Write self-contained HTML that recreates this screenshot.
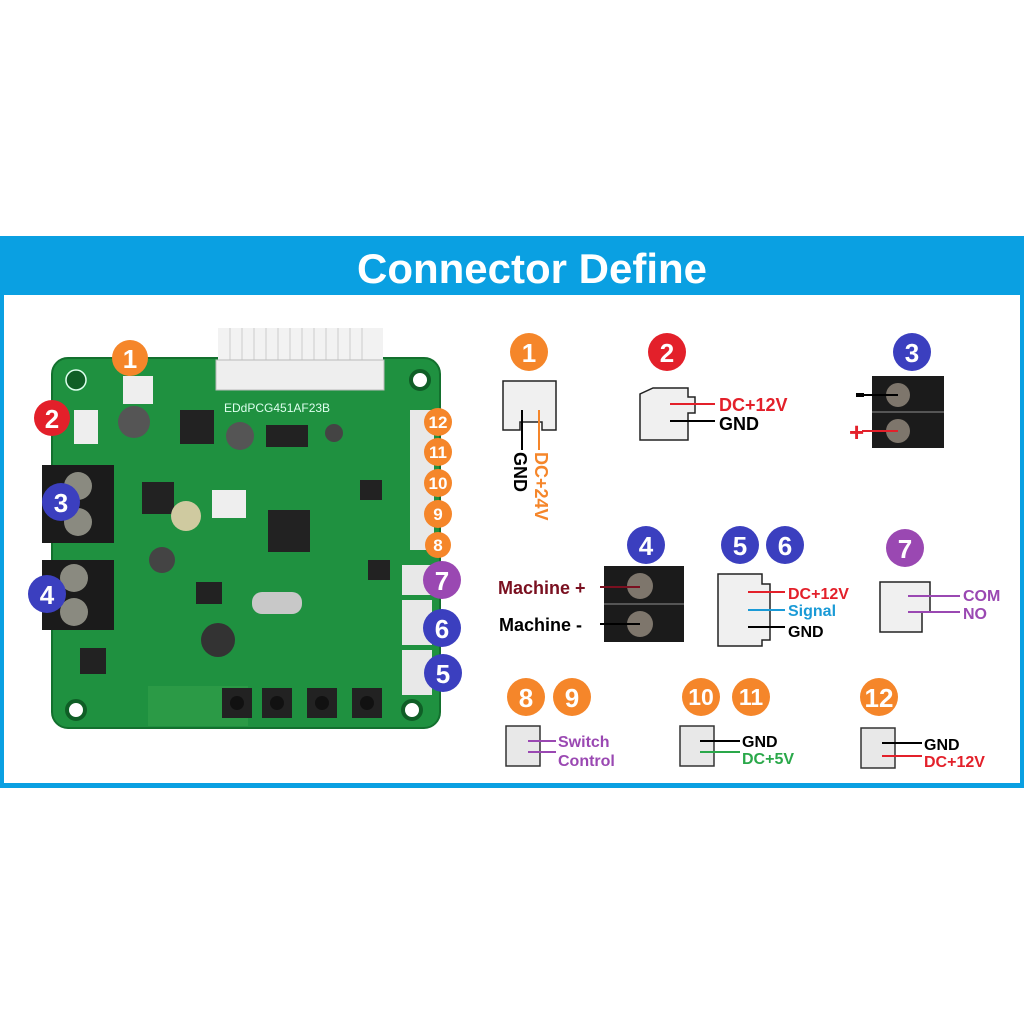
<!DOCTYPE html>
<html><head><style>
html,body{margin:0;padding:0;background:#fff;}
svg text{font-family:"Liberation Sans",sans-serif;font-weight:bold;}
</style></head><body>
<svg width="1024" height="1024" viewBox="0 0 1024 1024" xmlns="http://www.w3.org/2000/svg">
<rect width="1024" height="1024" fill="#fff"/>
<rect x="0" y="236" width="1024" height="552" fill="#0aa0e2"/>
<rect x="4" y="295" width="1016" height="488" fill="#fff"/>
<text x="532" y="283" font-size="42" fill="#fff" text-anchor="middle">Connector Define</text>

<rect x="52" y="358" width="388" height="370" rx="16" fill="#1f9140"/>
<rect x="52" y="358" width="388" height="370" rx="16" fill="none" stroke="#13702e" stroke-width="2"/>
<circle cx="76" cy="380" r="10" fill="#0f5e26" stroke="#dfe" stroke-width="1.5"/>
<circle cx="420" cy="380" r="9" fill="#fff" stroke="#0f5e26" stroke-width="4"/>
<circle cx="76" cy="710" r="9" fill="#fff" stroke="#0f5e26" stroke-width="4"/>
<circle cx="412" cy="710" r="9" fill="#fff" stroke="#0f5e26" stroke-width="4"/>
<rect x="218" y="328" width="165" height="32" fill="#f2f2f2"/>
<g stroke="#ccc" stroke-width="1">
<line x1="230" y1="328" x2="230" y2="360"/><line x1="242" y1="328" x2="242" y2="360"/><line x1="254" y1="328" x2="254" y2="360"/><line x1="266" y1="328" x2="266" y2="360"/><line x1="278" y1="328" x2="278" y2="360"/><line x1="290" y1="328" x2="290" y2="360"/><line x1="302" y1="328" x2="302" y2="360"/><line x1="314" y1="328" x2="314" y2="360"/><line x1="326" y1="328" x2="326" y2="360"/><line x1="338" y1="328" x2="338" y2="360"/><line x1="350" y1="328" x2="350" y2="360"/><line x1="362" y1="328" x2="362" y2="360"/></g>
<rect x="216" y="360" width="168" height="30" fill="#eee" stroke="#bbb"/>
<text x="224" y="412" font-size="12" fill="#dfe" style="font-weight:normal">EDdPCG451AF23B</text>
<rect x="123" y="376" width="30" height="28" fill="#eee"/>
<rect x="74" y="410" width="24" height="34" fill="#eee"/>
<rect x="212" y="490" width="34" height="28" fill="#eee"/>
<rect x="410" y="410" width="24" height="140" fill="#e8e8e8"/>
<rect x="402" y="565" width="30" height="30" fill="#e8e8e8"/>
<rect x="402" y="600" width="30" height="45" fill="#e8e8e8"/>
<rect x="402" y="650" width="30" height="45" fill="#e8e8e8"/>
<rect x="42" y="465" width="72" height="78" fill="#1b1b1b"/>
<circle cx="78" cy="486" r="14" fill="#8a8a80"/><circle cx="78" cy="522" r="14" fill="#8a8a80"/>
<rect x="42" y="560" width="72" height="70" fill="#1b1b1b"/>
<circle cx="74" cy="578" r="14" fill="#8a8a80"/><circle cx="74" cy="612" r="14" fill="#8a8a80"/>
<circle cx="134" cy="422" r="16" fill="#555"/>
<rect x="180" y="410" width="34" height="34" fill="#222"/>
<circle cx="240" cy="436" r="14" fill="#555"/>
<rect x="266" y="425" width="42" height="22" fill="#222"/>
<circle cx="334" cy="433" r="9" fill="#444"/>
<rect x="142" y="482" width="32" height="32" fill="#222"/>
<circle cx="186" cy="516" r="15" fill="#cfcaa0"/>
<rect x="268" y="510" width="42" height="42" fill="#222"/>
<circle cx="162" cy="560" r="13" fill="#444"/>
<rect x="196" y="582" width="26" height="22" fill="#222"/>
<rect x="252" y="592" width="50" height="22" rx="10" fill="#c8c8c8"/>
<circle cx="218" cy="640" r="17" fill="#333"/>
<rect x="80" y="648" width="26" height="26" fill="#222"/>
<rect x="360" y="480" width="22" height="20" fill="#222"/>
<rect x="368" y="560" width="22" height="20" fill="#222"/>
<rect x="148" y="686" width="100" height="40" fill="#2b9a46"/>
<rect x="222" y="688" width="30" height="30" fill="#222"/><circle cx="237" cy="703" r="7" fill="#111"/>
<rect x="262" y="688" width="30" height="30" fill="#222"/><circle cx="277" cy="703" r="7" fill="#111"/>
<rect x="307" y="688" width="30" height="30" fill="#222"/><circle cx="322" cy="703" r="7" fill="#111"/>
<rect x="352" y="688" width="30" height="30" fill="#222"/><circle cx="367" cy="703" r="7" fill="#111"/>

<g font-size="26" text-anchor="middle" fill="#fff">
<circle cx="130" cy="358" r="18" fill="#f5862a"/><text x="130" y="368">1</text>
<circle cx="52" cy="418" r="18" fill="#e3202a"/><text x="52" y="428">2</text>
<circle cx="61" cy="502" r="19" fill="#3b3fbf"/><text x="61" y="512">3</text>
<circle cx="47" cy="594" r="19" fill="#3b3fbf"/><text x="47" y="604">4</text>
<circle cx="442" cy="580" r="19" fill="#9a48b2"/><text x="442" y="590">7</text>
<circle cx="442" cy="628" r="19" fill="#3b3fbf"/><text x="442" y="638">6</text>
<circle cx="443" cy="673" r="19" fill="#3b3fbf"/><text x="443" y="683">5</text>
</g>
<g font-size="17" text-anchor="middle" fill="#fff">
<circle cx="438" cy="422" r="14" fill="#f5862a"/><text x="438" y="428">12</text>
<circle cx="438" cy="452" r="14" fill="#f5862a"/><text x="438" y="458">11</text>
<circle cx="438" cy="483" r="14" fill="#f5862a"/><text x="438" y="489">10</text>
<circle cx="438" cy="514" r="14" fill="#f5862a"/><text x="438" y="520">9</text>
<circle cx="438" cy="545" r="13" fill="#f5862a"/><text x="438" y="551">8</text>
</g>

<g font-size="26" text-anchor="middle" fill="#fff">
<circle cx="529" cy="352" r="19" fill="#f5862a"/><text x="529" y="362">1</text>
<circle cx="667" cy="352" r="19" fill="#e3202a"/><text x="667" y="362">2</text>
<circle cx="912" cy="352" r="19" fill="#3b3fbf"/><text x="912" y="362">3</text>
<circle cx="646" cy="545" r="19" fill="#3b3fbf"/><text x="646" y="555">4</text>
<circle cx="740" cy="545" r="19" fill="#3b3fbf"/><text x="740" y="555">5</text>
<circle cx="785" cy="545" r="19" fill="#3b3fbf"/><text x="785" y="555">6</text>
<circle cx="905" cy="548" r="19" fill="#9a48b2"/><text x="905" y="558">7</text>
<circle cx="526" cy="697" r="19" fill="#f5862a"/><text x="526" y="707">8</text>
<circle cx="572" cy="697" r="19" fill="#f5862a"/><text x="572" y="707">9</text>
<circle cx="879" cy="697" r="19" fill="#f5862a"/><text x="879" y="707">12</text>
</g>
<g font-size="23" text-anchor="middle" fill="#fff">
<circle cx="701" cy="697" r="19" fill="#f5862a"/><text x="701" y="705">10</text>
<circle cx="751" cy="697" r="19" fill="#f5862a"/><text x="751" y="705">11</text>
</g>

<path d="M503 381 H556 V430 H542 V422 H520 V430 H503 Z" fill="#f0f0f0" stroke="#222" stroke-width="1.5"/>
<line x1="522" y1="410" x2="522" y2="450" stroke="#000" stroke-width="2"/>
<line x1="539" y1="410" x2="539" y2="450" stroke="#f5862a" stroke-width="2"/>
<text transform="translate(514,452) rotate(90)" font-size="18" fill="#000">GND</text>
<text transform="translate(535,452) rotate(90)" font-size="18" fill="#f5862a">DC+24V</text>
<path d="M653 388 H688 V397 H695 V413 H688 V440 H640 V394 Z" fill="#f0f0f0" stroke="#222" stroke-width="1.5"/>
<line x1="670" y1="404" x2="715" y2="404" stroke="#e3202a" stroke-width="2"/>
<line x1="670" y1="421" x2="715" y2="421" stroke="#000" stroke-width="2"/>
<text x="719" y="411" font-size="18" fill="#e3202a">DC+12V</text>
<text x="719" y="430" font-size="18" fill="#000">GND</text>
<rect x="872" y="376" width="72" height="72" fill="#1b1b1b"/>
<line x1="872" y1="412" x2="944" y2="412" stroke="#555" stroke-width="2"/>
<circle cx="898" cy="395" r="12" fill="#7e766c"/><circle cx="898" cy="431" r="12" fill="#7e766c"/>
<line x1="862" y1="395" x2="898" y2="395" stroke="#000" stroke-width="2"/>
<line x1="862" y1="431" x2="898" y2="431" stroke="#e3202a" stroke-width="2"/>
<rect x="856" y="393" width="8" height="4" fill="#000"/>
<text x="849" y="441" font-size="26" fill="#e3202a">+</text>
<rect x="604" y="566" width="80" height="76" fill="#1b1b1b"/>
<line x1="604" y1="604" x2="684" y2="604" stroke="#555" stroke-width="2"/>
<circle cx="640" cy="586" r="13" fill="#7e766c"/><circle cx="640" cy="624" r="13" fill="#7e766c"/>
<line x1="600" y1="587" x2="640" y2="587" stroke="#7a1020" stroke-width="2"/>
<line x1="600" y1="624" x2="640" y2="624" stroke="#000" stroke-width="2"/>
<text x="498" y="594" font-size="18" fill="#7a1020">Machine +</text>
<text x="499" y="631" font-size="18" fill="#000">Machine -</text>
<path d="M718 574 H762 V584 H770 V640 H762 V646 H718 Z" fill="#f0f0f0" stroke="#222" stroke-width="1.5"/>
<line x1="748" y1="592" x2="785" y2="592" stroke="#e3202a" stroke-width="2"/>
<line x1="748" y1="610" x2="785" y2="610" stroke="#1a9ad6" stroke-width="2"/>
<line x1="748" y1="627" x2="785" y2="627" stroke="#000" stroke-width="2"/>
<text x="788" y="599" font-size="16" fill="#e3202a">DC+12V</text>
<text x="788" y="616" font-size="16" fill="#1a9ad6">Signal</text>
<text x="788" y="637" font-size="16" fill="#000">GND</text>
<path d="M880 582 H930 V612 H922 V632 H880 Z" fill="#f0f0f0" stroke="#222" stroke-width="1.5"/>
<line x1="908" y1="596" x2="960" y2="596" stroke="#9a48b2" stroke-width="2"/>
<line x1="908" y1="612" x2="960" y2="612" stroke="#9a48b2" stroke-width="2"/>
<text x="963" y="601" font-size="16" fill="#9a48b2">COM</text>
<text x="963" y="619" font-size="16" fill="#9a48b2">NO</text>
<path d="M506 726 H540 V766 H506 Z" fill="#e8e8e8" stroke="#333" stroke-width="1.5"/>
<line x1="528" y1="741" x2="556" y2="741" stroke="#9a48b2" stroke-width="2"/>
<line x1="528" y1="752" x2="556" y2="752" stroke="#9a48b2" stroke-width="2"/>
<text x="558" y="747" font-size="16" fill="#9a48b2">Switch</text>
<text x="558" y="766" font-size="16" fill="#9a48b2">Control</text>
<path d="M680 726 H714 V766 H680 Z" fill="#e8e8e8" stroke="#333" stroke-width="1.5"/>
<line x1="700" y1="741" x2="740" y2="741" stroke="#000" stroke-width="2"/>
<line x1="700" y1="752" x2="740" y2="752" stroke="#2aa84a" stroke-width="2"/>
<text x="742" y="747" font-size="16" fill="#000">GND</text>
<text x="742" y="764" font-size="16" fill="#2aa84a">DC+5V</text>
<path d="M861 728 H895 V768 H861 Z" fill="#e8e8e8" stroke="#333" stroke-width="1.5"/>
<line x1="882" y1="743" x2="922" y2="743" stroke="#000" stroke-width="2"/>
<line x1="882" y1="756" x2="922" y2="756" stroke="#e3202a" stroke-width="2"/>
<text x="924" y="750" font-size="16" fill="#000">GND</text>
<text x="924" y="767" font-size="16" fill="#e3202a">DC+12V</text>
</svg>
</body></html>
